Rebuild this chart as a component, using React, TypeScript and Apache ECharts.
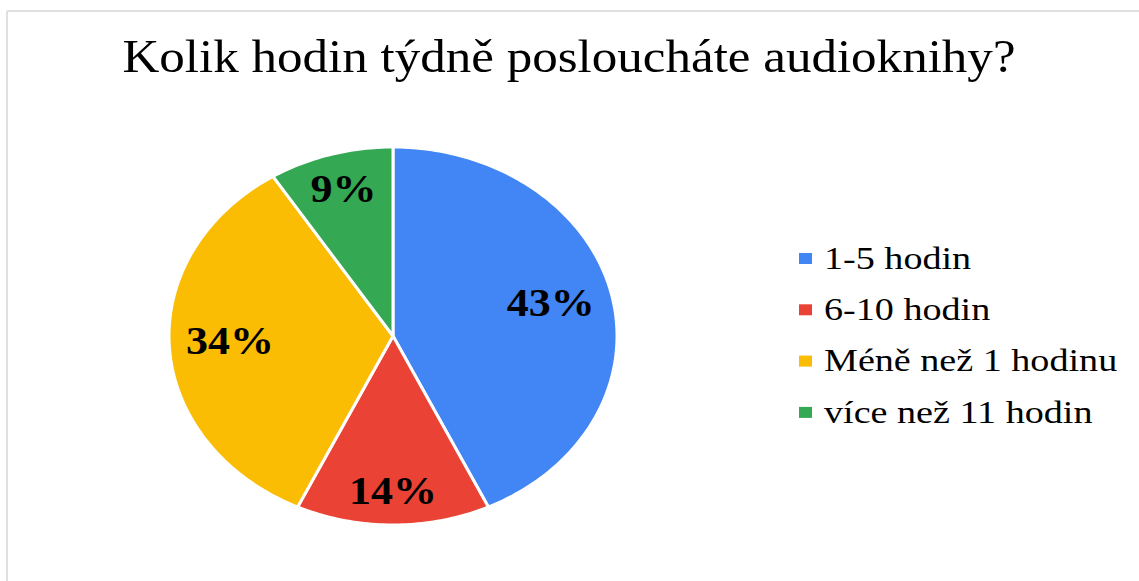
import React, { useEffect, useRef } from "react";
import * as echarts from "echarts";

const TITLE = "Kolik hodin týdně posloucháte audioknihy?";
const CATEGORIES = ["1-5 hodin", "6-10 hodin", "Méně než 1 hodinu", "více než 11 hodin"];
const VALUES = [43, 14, 34, 9];
const COLORS = ["#4285F4", "#EA4335", "#FBBC04", "#34A853"];

const CX = 393;
const CY = 336;
const RX = 224;
const RY = 189;
const LABEL_FONT = 40;
const LABEL_SCALE = 1.1;
const LABEL_MARGIN = 16;

function App() {
  const ref = useRef<HTMLDivElement>(null);
  useEffect(() => {
    if (!ref.current) return;
    const chart = echarts.init(ref.current, undefined, { renderer: "svg" });
    const total = VALUES.reduce((a, b) => a + b, 0);
    const series = CATEGORIES.map((name, i) => ({
      type: "custom",
      name,
      coordinateSystem: "none",
      itemStyle: { color: COLORS[i] },
      data: [[VALUES[i]]],
      renderItem: (params: any, api: any) => {
        const v = api.value(0);
        let before = 0;
        for (let k = 0; k < params.seriesIndex; k++) before += VALUES[k];
        const a0 = (before / total) * Math.PI * 2;
        const a1 = ((before + v) / total) * Math.PI * 2;
        const pts: number[][] = [[CX, CY]];
        const steps = Math.max(8, Math.ceil(((a1 - a0) / (Math.PI * 2)) * 360));
        for (let s = 0; s <= steps; s++) {
          const t = a0 + ((a1 - a0) * s) / steps;
          pts.push([CX + RX * Math.sin(t), CY - RY * Math.cos(t)]);
        }
        const am = (a0 + a1) / 2;
        const ex = RX * Math.sin(am);
        const ey = -RY * Math.cos(am);
        const len = Math.sqrt(ex * ex + ey * ey);
        const ux = ex / len;
        const uy = ey / len;
        const label = v + "%";
        const hw = ((String(v).length * 0.5 + 1) * LABEL_FONT * LABEL_SCALE) / 2;
        const hh = 14;
        const dist = len - LABEL_MARGIN - Math.abs(ux) * hw - Math.abs(uy) * hh;
        return {
          type: "group",
          children: [
            {
              type: "polygon",
              shape: { points: pts },
              style: { fill: api.visual("color"), stroke: "#ffffff", lineWidth: 3, lineJoin: "round" },
            },
            {
              type: "text",
              x: CX + ux * dist,
              y: CY + uy * dist - 4,
              scaleX: LABEL_SCALE,
              style: {
                text: label,
                fill: "#000000",
                font: "bold " + LABEL_FONT + "px 'Liberation Serif'",
                align: "center",
                verticalAlign: "middle",
              },
              z2: 10,
            },
          ],
        };
      },
    }));

    const legendItems: any[] = [];
    CATEGORIES.forEach((name, i) => {
      const yc = 258.5 + 51.3 * i;
      legendItems.push({
        type: "rect",
        shape: { x: 799, y: yc - 5.5, width: 13, height: 11 },
        style: { fill: COLORS[i] },
      });
      legendItems.push({
        type: "text",
        x: 824,
        y: yc,
        scaleX: 1.23,
        style: {
          text: name,
          fill: "#000000",
          font: "31px 'Liberation Serif'",
          align: "left",
          verticalAlign: "middle",
        },
      });
    });

    chart.setOption({
      animation: false,
      backgroundColor: "#ffffff",
      graphic: [
        {
          type: "line",
          shape: { x1: 7, y1: 11, x2: 1139, y2: 11 },
          style: { stroke: "#e0e0e0", lineWidth: 2 },
        },
        {
          type: "line",
          shape: { x1: 7, y1: 11, x2: 7, y2: 581 },
          style: { stroke: "#e0e0e0", lineWidth: 2 },
        },
        {
          type: "text",
          x: 569,
          y: 57,
          scaleX: 1.11,
          style: {
            text: TITLE,
            fill: "#000000",
            font: "46px 'Liberation Serif'",
            align: "center",
            verticalAlign: "middle",
          },
        },
        ...legendItems,
      ],
      series,
    });
    return () => chart.dispose();
  }, []);
  return (
    <div
      ref={ref}
      style={{ position: "fixed", left: 0, top: 0, width: 1139, height: 581 }}
    />
  );
}

export default App;
